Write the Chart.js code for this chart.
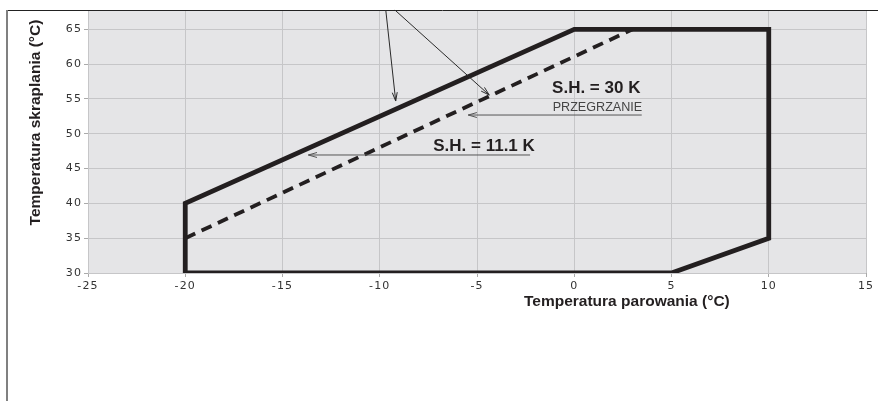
<!DOCTYPE html>
<html>
<head>
<meta charset="utf-8">
<script src="https://cdn.jsdelivr.net/npm/chart.js@4/dist/chart.umd.min.js"></script>
<style>
html,body{margin:0;padding:0;background:#fff;}
#wrap{position:relative;width:878px;height:401px;}
</style>
</head>
<body>
<div id="wrap"><canvas id="c" width="878" height="401"></canvas></div>
<script>
// ---- data ----
const evapTicks = [-25, -20, -15, -10, -5, 0, 5, 10, 15];
const condTicks = [30, 35, 40, 45, 50, 55, 60, 65];
const envelopeX = [-20, -20, 0, 10, 10, 5, -20];
const envelopeY = [30, 40, 65, 65, 35, 30, 30];
const sh30X = [-20, 3];
const sh30Y = [35, 65];
const xTitle = 'Temperatura parowania (°C)';
const yTitle = 'Temperatura skraplania (°C)';
const labelSH30 = 'S.H. = 30 K';
const labelPrz = 'PRZEGRZANIE';
const labelSH11 = 'S.H. = 11.1 K';

const toPts = (xs, ys) => xs.map((x, i) => ({x: x, y: ys[i]}));

// annotation anchors (data coordinates)
const arrows = [
  {from: [-9.69, 67.77], to: [-9.18, 54.70], color: '#2a2a2a'},
  {from: [-9.22, 67.77], to: [-4.37, 55.56], color: '#2a2a2a'},
  {from: [3.47, 52.69], to: [-5.45, 52.69], color: '#555'},
  {from: [-2.27, 46.95], to: [-13.67, 46.95], color: '#555'}
];
const texts = [
  {t: labelSH30, at: [-1.14, 56.53], font: 'bold 17px "Liberation Sans", Arial, sans-serif', color: '#231f20'},
  {t: labelPrz, at: [-1.11, 53.80], font: '12.6px "Liberation Sans", Arial, sans-serif', color: '#444'},
  {t: labelSH11, at: [-7.25, 48.14], font: 'bold 17px "Liberation Sans", Arial, sans-serif', color: '#231f20'}
];

const deco = {
  id: 'deco',
  beforeDraw(chart) {
    const {ctx, chartArea: a} = chart;
    ctx.save();
    ctx.fillStyle = '#fff';
    ctx.fillRect(0, 0, chart.width, chart.height);
    ctx.fillStyle = '#e5e5e7';
    ctx.fillRect(a.left, a.top, a.right - a.left, a.bottom - a.top);
    // frame
    ctx.strokeStyle = '#222';
    ctx.lineWidth = 1;
    ctx.beginPath();
    ctx.moveTo(7, 10.5); ctx.lineTo(chart.width, 10.5);
    ctx.stroke();
    ctx.strokeStyle = '#808080';
    ctx.lineWidth = 2;
    ctx.beginPath();
    ctx.moveTo(7, 10); ctx.lineTo(7, chart.height);
    ctx.stroke();
    ctx.restore();
    ctx.letterSpacing = '1.1px';
  },
  beforeDatasetsDraw(chart) {
    chart.ctx.letterSpacing = '0px';
  },
  afterDraw(chart) {
    const {ctx, chartArea: a, scales: {x, y}} = chart;
    ctx.save();
    ctx.letterSpacing = '0px';
    // arrows
    arrows.forEach(ar => {
      const x1 = x.getPixelForValue(ar.from[0]), y1 = y.getPixelForValue(ar.from[1]);
      const x2 = x.getPixelForValue(ar.to[0]), y2 = y.getPixelForValue(ar.to[1]);
      ctx.strokeStyle = ar.color;
      ctx.lineWidth = 1;
      ctx.beginPath();
      ctx.moveTo(x1, y1); ctx.lineTo(x2, y2);
      ctx.stroke();
      const ang = Math.atan2(y2 - y1, x2 - x1);
      const L = 9, w = 0.28;
      ctx.beginPath();
      ctx.moveTo(x2 - L * Math.cos(ang - w), y2 - L * Math.sin(ang - w));
      ctx.lineTo(x2, y2);
      ctx.lineTo(x2 - L * Math.cos(ang + w), y2 - L * Math.sin(ang + w));
      ctx.stroke();
    });
    // texts
    ctx.textAlign = 'left';
    ctx.textBaseline = 'middle';
    texts.forEach(t => {
      ctx.font = t.font;
      ctx.fillStyle = t.color;
      ctx.fillText(t.t, x.getPixelForValue(t.at[0]), y.getPixelForValue(t.at[1]));
    });
    // axis titles
    ctx.font = 'bold 15.5px "Liberation Sans", Arial, sans-serif';
    ctx.fillStyle = '#231f20';
    ctx.textBaseline = 'alphabetic';
    ctx.textAlign = 'left';
    ctx.fillText(xTitle, a.left + 436, a.bottom + 33);
    ctx.translate(40, a.top + 111.5);
    ctx.rotate(-Math.PI / 2);
    ctx.textAlign = 'center';
    ctx.fillText(yTitle, 0, 0);
    ctx.restore();
  }
};

const tickFont = {family: '"DejaVu Sans", sans-serif', size: 11};

new Chart(document.getElementById('c'), {
  type: 'scatter',
  data: {
    datasets: [
      {
        data: toPts(envelopeX, envelopeY),
        showLine: true,
        borderColor: '#231f20',
        borderWidth: 4.8,
        borderJoinStyle: 'miter',
        borderCapStyle: 'butt',
        pointRadius: 0,
        fill: false
      },
      {
        data: toPts(sh30X, sh30Y),
        showLine: true,
        borderColor: '#231f20',
        borderWidth: 3.8,
        borderDash: [11, 7],
        borderCapStyle: 'butt',
        pointRadius: 0,
        fill: false
      }
    ]
  },
  options: {
    responsive: false,
    animation: false,
    events: [],
    layout: {padding: {left: 0, top: 11, right: 12, bottom: 108}},
    plugins: {legend: {display: false}, tooltip: {enabled: false}},
    scales: {
      x: {
        type: 'linear',
        min: evapTicks[0],
        max: evapTicks[evapTicks.length - 1],
        afterBuildTicks: s => { s.ticks = evapTicks.map(v => ({value: v})); },
        afterFit: s => { s.height = 20; },
        grid: {color: '#c6c6c8', lineWidth: 1, tickLength: 4, drawTicks: true, tickColor: '#aaa'},
        border: {display: false},
        ticks: {font: tickFont, color: '#333', padding: 3, maxRotation: 0, autoSkip: false}
      },
      y: {
        type: 'linear',
        min: condTicks[0],
        max: 67.63,
        afterBuildTicks: s => { s.ticks = condTicks.map(v => ({value: v})); },
        afterFit: s => { s.width = 88; },
        grid: {color: '#c6c6c8', lineWidth: 1, tickLength: 4, drawTicks: true, tickColor: '#aaa'},
        border: {display: false},
        ticks: {font: tickFont, color: '#333', padding: 2, autoSkip: false}
      }
    }
  },
  plugins: [deco]
});
</script>
</body>
</html>
